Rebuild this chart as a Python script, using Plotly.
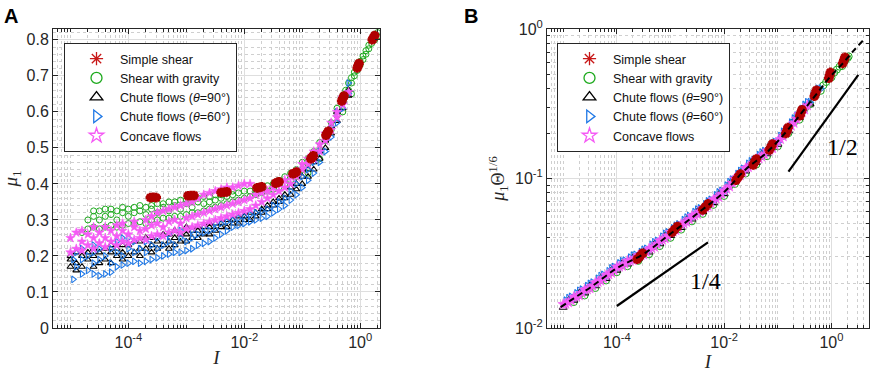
import math
import plotly.graph_objects as go

# ---------------- Panel A data (mu_1 vs I) ----------------
shear_I = [2.40e-4, 2.69e-4, 3.02e-4, 1.07e-3, 1.20e-3, 1.35e-3, 3.98e-3, 4.47e-3, 5.01e-3,
           1.66e-2, 1.82e-2, 2.00e-2, 3.47e-2, 3.72e-2, 3.98e-2, 6.92e-2, 7.41e-2, 7.94e-2,
           0.141, 0.148, 0.155, 0.257, 0.269, 0.282, 0.479, 0.501, 0.525, 0.891, 0.923, 0.955,
           1.62, 1.70, 1.78]
shear_mu = [0.362, 0.363, 0.362, 0.367, 0.368, 0.368, 0.376, 0.377, 0.378,
            0.389, 0.390, 0.392, 0.402, 0.404, 0.406, 0.428, 0.430, 0.433,
            0.470, 0.474, 0.478, 0.535, 0.540, 0.546, 0.630, 0.637, 0.644, 0.722, 0.728, 0.734,
            0.800, 0.806, 0.812]

gravity_I = [1.58e-5, 2.0e-5, 2.51e-5, 3.16e-5, 3.98e-5, 5.01e-5, 6.31e-5, 7.94e-5,
             1.0e-4, 1.26e-4, 1.58e-4, 2.0e-4, 2.51e-4, 3.16e-4, 3.98e-4, 5.01e-4, 6.31e-4, 7.94e-4,
             1.0e-3, 1.26e-3, 1.58e-3, 2.0e-3, 2.51e-3, 3.16e-3, 3.98e-3, 5.01e-3, 6.31e-3, 7.94e-3,
             1.0e-2, 1.26e-2, 1.58e-2, 2.0e-2, 2.51e-2, 3.16e-2, 3.98e-2, 5.01e-2, 6.31e-2, 7.94e-2,
             0.1, 0.126, 0.158, 0.2, 0.251, 0.316, 0.398, 0.501, 0.562, 0.631, 0.708, 0.794, 0.891,
             1.0, 1.12, 1.26, 1.41, 1.58, 1.78, 2.0]
gravity_mu = [[0.265], [0.275, 0.30], [0.28, 0.31, 0.325], [0.275, 0.30, 0.325], [0.28, 0.31, 0.33],
              [0.285, 0.315, 0.33], [0.28, 0.30, 0.325], [0.285, 0.32, 0.335],
              [0.29, 0.31, 0.33], [0.29, 0.32, 0.335], [0.295, 0.325, 0.34], [0.29, 0.315, 0.335],
              [0.30, 0.33, 0.34], [0.30, 0.32, 0.345], [0.305, 0.335, 0.345], [0.305, 0.325, 0.35],
              [0.31, 0.34, 0.35], [0.31, 0.33, 0.355],
              [0.315, 0.345, 0.355], [0.32, 0.335, 0.36], [0.32, 0.35, 0.36], [0.325, 0.345, 0.365],
              [0.33, 0.35, 0.365], [0.335, 0.355, 0.37], [0.34, 0.36, 0.37], [0.345, 0.365, 0.375],
              [0.35, 0.37, 0.38], [0.355, 0.375],
              [0.36, 0.38], [0.365, 0.38], [0.37, 0.385], [0.375, 0.39], [0.38, 0.395], [0.385, 0.40],
              [0.39, 0.41], [0.40, 0.42], [0.41, 0.43], [0.42, 0.44],
              [0.44, 0.46], [0.455, 0.47, 0.43], [0.47, 0.49], [0.495, 0.515, 0.47], [0.52, 0.54],
              [0.55, 0.57], [0.59, 0.61], [0.63, 0.645, 0.60], [0.65, 0.66], [0.66, 0.68],
              [0.68, 0.695, 0.65], [0.70, 0.71], [0.715, 0.725],
              [0.73, 0.74], [0.745, 0.755], [0.76, 0.77], [0.775, 0.785], [0.79, 0.80], [0.80, 0.815],
              [0.81, 0.82]]

chute90_I = [1.0e-5, 1.26e-5, 1.58e-5, 2.0e-5, 2.51e-5, 3.16e-5, 3.98e-5, 5.01e-5, 6.31e-5, 7.94e-5,
             1.0e-4, 1.26e-4, 1.58e-4, 2.0e-4, 2.51e-4, 3.16e-4, 3.98e-4, 5.01e-4, 6.31e-4, 7.94e-4,
             1.0e-3, 1.26e-3, 1.58e-3, 2.0e-3, 2.51e-3, 3.16e-3, 3.98e-3, 5.01e-3, 6.31e-3, 7.94e-3,
             1.0e-2, 1.26e-2, 1.58e-2, 2.0e-2, 2.51e-2, 3.16e-2, 3.98e-2, 5.01e-2, 6.31e-2, 7.94e-2,
             0.1, 0.126, 0.158, 0.2, 0.251, 0.316, 0.398, 0.501, 0.631]
chute90_mu = [[0.17, 0.19, 0.20], [0.16, 0.18, 0.21], [0.17, 0.20], [0.19, 0.21], [0.17, 0.20, 0.22],
              [0.18, 0.21], [0.19, 0.22], [0.18, 0.21, 0.23], [0.20, 0.22], [0.19, 0.21, 0.23],
              [0.20, 0.23], [0.21, 0.24], [0.20, 0.22, 0.24], [0.22, 0.25], [0.21, 0.23, 0.25],
              [0.22, 0.24], [0.23, 0.26], [0.22, 0.24, 0.26], [0.23, 0.25, 0.27], [0.24, 0.26],
              [0.24, 0.26, 0.28], [0.25, 0.27], [0.25, 0.27, 0.28], [0.26, 0.28], [0.26, 0.28, 0.29],
              [0.27, 0.29], [0.28, 0.29], [0.28, 0.30], [0.29, 0.30], [0.29, 0.31],
              [0.30, 0.31], [0.30, 0.32], [0.31, 0.32], [0.32, 0.33], [0.33, 0.34],
              [0.34, 0.35], [0.35, 0.36], [0.36, 0.37], [0.37, 0.39], [0.385, 0.40],
              [0.40, 0.42], [0.42, 0.44], [0.44, 0.46], [0.47, 0.49], [0.50, 0.52],
              [0.54, 0.56], [0.575, 0.60], [0.61, 0.63], [0.645, 0.66]]

chute60_I = [1.12e-5, 1.26e-5, 1.58e-5, 2.0e-5, 2.51e-5, 3.16e-5, 3.98e-5, 5.01e-5, 6.31e-5, 7.94e-5,
             1.0e-4, 1.26e-4, 1.58e-4, 2.0e-4, 2.51e-4, 3.16e-4, 3.98e-4, 5.01e-4, 6.31e-4, 7.94e-4,
             1.0e-3, 1.26e-3, 1.58e-3, 2.0e-3, 2.51e-3, 3.16e-3, 3.98e-3, 5.01e-3, 6.31e-3, 7.94e-3,
             1.0e-2, 1.26e-2, 1.58e-2, 2.0e-2, 2.51e-2, 3.16e-2, 3.98e-2, 5.01e-2, 6.31e-2, 7.94e-2,
             0.1, 0.126, 0.158, 0.2, 0.251, 0.316, 0.398, 0.501, 0.631]
chute60_mu = [[0.135, 0.19], [0.17, 0.21], [0.15, 0.19, 0.22], [0.16, 0.20], [0.15, 0.18, 0.21, 0.23],
              [0.145, 0.19, 0.22], [0.15, 0.20], [0.155, 0.18, 0.22], [0.17, 0.21, 0.24], [0.175, 0.20, 0.25],
              [0.18, 0.22, 0.25], [0.185, 0.21, 0.24], [0.18, 0.22], [0.185, 0.21, 0.24], [0.19, 0.23],
              [0.195, 0.22, 0.25], [0.20, 0.23], [0.205, 0.24, 0.26], [0.21, 0.23], [0.21, 0.25, 0.27],
              [0.215, 0.24], [0.22, 0.25, 0.27], [0.23, 0.26], [0.235, 0.265, 0.28], [0.24, 0.27],
              [0.25, 0.275, 0.29], [0.26, 0.29], [0.27, 0.295], [0.28, 0.30], [0.285, 0.305],
              [0.29, 0.31], [0.295, 0.315], [0.30, 0.32], [0.305, 0.325], [0.31, 0.33],
              [0.32, 0.34], [0.33, 0.35], [0.34, 0.36], [0.355, 0.38], [0.37, 0.40],
              [0.39, 0.42], [0.41, 0.44], [0.43, 0.46], [0.46, 0.49], [0.49, 0.53],
              [0.53, 0.56], [0.57, 0.60], [0.61, 0.64], [0.65, 0.68]]

concave_I = [1.0e-5, 1.26e-5, 1.58e-5, 2.0e-5, 2.51e-5, 3.16e-5, 3.98e-5, 5.01e-5, 6.31e-5, 7.94e-5,
             1.0e-4, 1.26e-4, 1.58e-4, 2.0e-4, 2.51e-4, 3.16e-4, 3.98e-4, 5.01e-4, 6.31e-4, 7.94e-4,
             1.0e-3, 1.26e-3, 1.58e-3, 2.0e-3, 2.51e-3, 3.16e-3, 3.98e-3, 5.01e-3, 6.31e-3, 7.94e-3,
             1.0e-2, 1.26e-2, 1.58e-2, 2.0e-2, 2.51e-2, 3.16e-2, 3.98e-2, 5.01e-2, 6.31e-2, 7.94e-2,
             0.1, 0.126, 0.158, 0.2, 0.251, 0.316, 0.398, 0.501, 0.631]
concave_mu = [[0.21, 0.25], [0.22, 0.265], [0.215, 0.24, 0.27], [0.23, 0.26], [0.22, 0.25, 0.28],
              [0.235, 0.265], [0.225, 0.25, 0.28], [0.24, 0.27], [0.23, 0.255, 0.285], [0.24, 0.27, 0.29],
              [0.235, 0.26], [0.245, 0.28, 0.295], [0.25, 0.27], [0.245, 0.275, 0.30], [0.255, 0.285, 0.31],
              [0.26, 0.29, 0.32], [0.255, 0.28, 0.325], [0.265, 0.295, 0.33], [0.27, 0.30, 0.335],
              [0.265, 0.29, 0.34],
              [0.275, 0.305, 0.345], [0.28, 0.31, 0.35], [0.285, 0.315, 0.36], [0.29, 0.32, 0.37],
              [0.295, 0.325, 0.375], [0.30, 0.33, 0.38], [0.305, 0.335, 0.385], [0.31, 0.34, 0.39],
              [0.315, 0.345, 0.39], [0.32, 0.35, 0.395],
              [0.325, 0.355, 0.40], [0.33, 0.36, 0.40], [0.34, 0.37], [0.35, 0.375], [0.36, 0.38],
              [0.37, 0.39], [0.38, 0.40], [0.39, 0.41], [0.40, 0.42], [0.42, 0.435],
              [0.44, 0.455], [0.455, 0.47], [0.47, 0.49], [0.49, 0.51], [0.52, 0.54],
              [0.55, 0.57], [0.585, 0.60], [0.62, 0.64], [0.655]]

# ---------------- Panel B data (mu_1 Theta^(1/6) vs I) ----------------
shear_yB = [0.0288, 0.0302, 0.0316, 0.0436, 0.0457, 0.0478, 0.0617, 0.0646, 0.0676,
            0.0974, 0.102, 0.107, 0.123, 0.129, 0.135, 0.155, 0.162, 0.170,
            0.200, 0.209, 0.219, 0.263, 0.275, 0.288, 0.355, 0.372, 0.389, 0.468, 0.490, 0.513,
            0.589, 0.617, 0.646]

gravity_IB = [1.58e-5, 2.0e-5, 2.51e-5, 3.16e-5, 3.98e-5, 5.01e-5, 6.31e-5, 7.94e-5,
              1.0e-4, 1.26e-4, 1.58e-4, 2.0e-4, 2.51e-4, 3.16e-4, 3.98e-4, 5.01e-4, 6.31e-4, 7.94e-4,
              1.0e-3, 1.26e-3, 1.58e-3, 2.0e-3, 2.51e-3, 3.16e-3, 3.98e-3, 5.01e-3, 6.31e-3, 7.94e-3,
              1.0e-2, 1.26e-2, 1.58e-2, 2.0e-2, 2.51e-2, 3.16e-2, 3.98e-2, 5.01e-2, 6.31e-2, 7.94e-2,
              0.1, 0.126, 0.158, 0.2, 0.251, 0.316, 0.398, 0.501, 0.631, 0.794,
              1.0, 1.26, 1.58, 2.0, 0.708, 0.891, 1.12, 1.41, 1.78, 2.09]
gravity_yB = [0.0149, 0.0167, 0.0165, 0.0186, 0.0185, 0.0209, 0.0208, 0.0236,
              0.0236, 0.0263, 0.0259, 0.0287, 0.0281, 0.0313, 0.0311, 0.0353, 0.0353, 0.0401,
              0.0401, 0.0455, 0.0455, 0.0516, 0.0517, 0.0583, 0.0580, 0.0661, 0.0666, 0.0759,
              0.0764, 0.0891, 0.0918, 0.106, 0.108, 0.123, 0.124, 0.141, 0.141, 0.161,
              0.164, 0.193, 0.201, 0.237, 0.247, 0.292, 0.314, 0.359, 0.386, 0.442,
              0.475, 0.535, 0.565, 0.640, 0.420, 0.465, 0.510, 0.560, 0.610, 0.655]

chute90_IB = chute90_I[:48]
chute90_yB = [0.0137, 0.0153, 0.0153, 0.0172, 0.0171, 0.0192, 0.0191, 0.0215, 0.0214, 0.0243,
              0.0243, 0.0271, 0.0267, 0.0296, 0.0290, 0.0322, 0.0321, 0.0364, 0.0365, 0.0413,
              0.0414, 0.0469, 0.0469, 0.0531, 0.0534, 0.0600, 0.0598, 0.0681, 0.0687, 0.0782,
              0.0789, 0.0918, 0.0948, 0.109, 0.112, 0.127, 0.128, 0.145, 0.146, 0.166,
              0.169, 0.199, 0.208, 0.244, 0.255, 0.301, 0.314, 0.370]

half_I = [1.12e-5, 1.41e-5, 1.78e-5, 2.24e-5, 2.82e-5, 3.55e-5, 4.47e-5, 5.62e-5, 7.08e-5, 8.91e-5,
          1.12e-4, 1.41e-4, 1.78e-4, 2.24e-4, 2.82e-4, 3.55e-4, 4.47e-4, 5.62e-4, 7.08e-4, 8.91e-4,
          1.12e-3, 1.41e-3, 1.78e-3, 2.24e-3, 2.82e-3, 3.55e-3, 4.47e-3, 5.62e-3, 7.08e-3, 8.91e-3,
          1.12e-2, 1.41e-2, 1.78e-2, 2.24e-2, 2.82e-2, 3.55e-2, 4.47e-2, 5.62e-2, 7.08e-2, 8.91e-2,
          0.112, 0.141, 0.178, 0.224, 0.282, 0.355, 0.447, 0.562]

chute60_IB = [1.26e-5, 1.58e-5, 2.0e-5, 2.51e-5, 3.16e-5, 3.98e-5, 5.01e-5, 6.31e-5, 7.94e-5,
              1.0e-4, 1.26e-4, 1.58e-4, 2.0e-4, 2.51e-4, 3.16e-4, 3.98e-4, 5.01e-4, 6.31e-4, 7.94e-4,
              1.0e-3, 1.26e-3, 1.58e-3, 2.0e-3, 2.51e-3, 3.16e-3, 3.98e-3, 5.01e-3, 6.31e-3, 7.94e-3,
              1.0e-2, 1.26e-2, 1.58e-2, 2.0e-2, 2.51e-2, 3.16e-2, 3.98e-2, 5.01e-2, 6.31e-2, 7.94e-2,
              0.1, 0.126, 0.158, 0.2, 0.251, 0.316, 0.398, 0.501, 0.631] + half_I
chute60_yB = [0.0158, 0.0158, 0.0177, 0.0176, 0.0197, 0.0197, 0.0222, 0.0221, 0.0250,
              0.0251, 0.0279, 0.0275, 0.0304, 0.0299, 0.0332, 0.0331, 0.0374, 0.0376, 0.0425,
              0.0427, 0.0482, 0.0484, 0.0547, 0.0550, 0.0618, 0.0617, 0.0701, 0.0708, 0.0805,
              0.0813, 0.0944, 0.0977, 0.112, 0.115, 0.130, 0.132, 0.149, 0.150, 0.171,
              0.174, 0.205, 0.214, 0.251, 0.263, 0.310, 0.324, 0.381, 0.398,
              0.0152, 0.0161, 0.0170, 0.0180, 0.0190, 0.0201, 0.0213, 0.0226, 0.0239, 0.0255,
              0.0270, 0.0282, 0.0295, 0.0308, 0.0321, 0.0338, 0.0359, 0.0382, 0.0407, 0.0435,
              0.0463, 0.0492, 0.0525, 0.0560, 0.0594, 0.0630, 0.0671, 0.0718, 0.0770, 0.0825,
              0.0894, 0.0980, 0.107, 0.116, 0.125, 0.133, 0.143, 0.152, 0.163, 0.175,
              0.192, 0.213, 0.236, 0.263, 0.291, 0.323, 0.358, 0.397]

concave_IB = chute90_I[:46] + half_I[:46]
concave_yB = [0.0144, 0.0148, 0.0161, 0.0165, 0.0180, 0.0184, 0.0201, 0.0207, 0.0225, 0.0234,
              0.0256, 0.0260, 0.0281, 0.0284, 0.0305, 0.0310, 0.0338, 0.0349, 0.0384, 0.0397,
              0.0436, 0.0450, 0.0494, 0.0511, 0.0561, 0.0577, 0.0629, 0.0654, 0.0722, 0.0751,
              0.0829, 0.0882, 0.0997, 0.105, 0.117, 0.122, 0.135, 0.140, 0.153, 0.159,
              0.177, 0.191, 0.218, 0.235, 0.268, 0.289,
              0.0145, 0.0153, 0.0162, 0.0171, 0.0181, 0.0191, 0.0203, 0.0215, 0.0228, 0.0243,
              0.0257, 0.0269, 0.0281, 0.0293, 0.0306, 0.0322, 0.0342, 0.0364, 0.0388, 0.0414,
              0.0441, 0.0469, 0.0500, 0.0533, 0.0566, 0.0600, 0.0639, 0.0684, 0.0733, 0.0786,
              0.0851, 0.0933, 0.102, 0.110, 0.119, 0.127, 0.136, 0.145, 0.155, 0.167,
              0.183, 0.203, 0.225, 0.250, 0.277, 0.308]

fit_I = [9.0e-6, 1.58e-5, 3.16e-5, 1.0e-4, 3.16e-4, 1.0e-3, 3.16e-3, 1.0e-2, 2.51e-2,
         6.31e-2, 0.158, 0.398, 1.0, 1.58, 2.51, 3.9]
fit_y = [0.0138, 0.0158, 0.0186, 0.0251, 0.0313, 0.0427, 0.0583, 0.0813, 0.115,
         0.150, 0.214, 0.324, 0.490, 0.582, 0.708, 0.84]

slope14_I = [1.0e-4, 5.0e-3]
slope14_y = [0.01403, 0.0374]
slope12_I = [0.158, 3.16]
slope12_y = [0.111, 0.493]

x_ticks = [1e-4, 1e-2, 1e0]
x_ticktext = ["10<sup>-4</sup>", "10<sup>-2</sup>", "10<sup>0</sup>"]
yB_ticks = [1e-2, 1e-1, 1e0]
yB_ticktext = ["10<sup>-2</sup>", "10<sup>-1</sup>", "10<sup>0</sup>"]

names = ["Simple shear", "Shear with gravity", "Chute flows (<i>θ</i>=90°)",
         "Chute flows (<i>θ</i>=60°)", "Concave flows"]

# ---------------- styles ----------------
RED = "#B00000"
RED_LEG = "#C81818"
GREEN = "#1EAA1E"
BLACK = "#000000"
BLUE = "#1F78E6"
PINK = "#F55AF5"
AX = "#262626"
FONT = "Liberation Sans, Arial, sans-serif"
SERIF = "Liberation Serif, Times New Roman, serif"


def flat(xs, groups):
    ox, oy = [], []
    for x, g in zip(xs, groups):
        for v in g:
            ox.append(x)
            oy.append(v)
    return ox, oy


fig = go.Figure()

leg_styles = [
    dict(symbol="asterisk-open", color=RED_LEG),
    dict(symbol="circle-open", color=GREEN),
    dict(symbol="triangle-up-open", color=BLACK),
    dict(symbol="triangle-right-open", color=BLUE),
    dict(symbol="star-open", color=PINK),
]


def data_trace(x, y, symbol, color, size, lw, xa, ya):
    return go.Scatter(x=x, y=y, mode="markers", xaxis=xa, yaxis=ya, showlegend=False,
                      marker=dict(symbol=symbol, size=size, color=color,
                                  line=dict(color=color, width=lw)),
                      hoverinfo="skip")

# ---- Panel A scatter ----
gx, gy = flat(gravity_I, gravity_mu)
bx, by = flat(chute90_I, chute90_mu)
ux, uy = flat(chute60_I, chute60_mu)
px_, py_ = flat(concave_I, concave_mu)

fig.add_trace(data_trace(gx, gy, "circle-open", GREEN, 6, 1, "x", "y"))
fig.add_trace(data_trace(bx, by, "triangle-up-open", BLACK, 6, 1.1, "x", "y"))
fig.add_trace(data_trace(ux, uy, "triangle-right-open", BLUE, 6, 1.1, "x", "y"))
fig.add_trace(data_trace(px_, py_, "star", PINK, 7, 0.6, "x", "y"))
fig.add_trace(data_trace(shear_I, shear_mu, "asterisk-open", RED, 8, 3, "x", "y"))

# ---- Panel B scatter ----
fig.add_trace(data_trace(gravity_IB, gravity_yB, "circle-open", GREEN, 7, 1, "x2", "y2"))
fig.add_trace(data_trace(chute90_IB, chute90_yB, "triangle-up-open", BLACK, 7, 1.1, "x2", "y2"))
fig.add_trace(data_trace(chute60_IB, chute60_yB, "triangle-right-open", BLUE, 7, 1.1, "x2", "y2"))
fig.add_trace(data_trace(concave_IB, concave_yB, "star", PINK, 8, 0.6, "x2", "y2"))
fig.add_trace(data_trace(shear_I, shear_yB, "asterisk-open", RED, 8, 3, "x2", "y2"))

fig.add_trace(go.Scatter(x=fit_I, y=fit_y, mode="lines", xaxis="x2", yaxis="y2", showlegend=False,
                         line=dict(color="black", width=2, dash="6px,4px", shape="spline"), hoverinfo="skip"))
fig.add_trace(go.Scatter(x=slope14_I, y=slope14_y, mode="lines", xaxis="x2", yaxis="y2", showlegend=False,
                         line=dict(color="black", width=2.2), hoverinfo="skip"))
fig.add_trace(go.Scatter(x=slope12_I, y=slope12_y, mode="lines", xaxis="x2", yaxis="y2", showlegend=False,
                         line=dict(color="black", width=2.2), hoverinfo="skip"))

# ---- legend entries ----
for leg, xa, ya in (("legend", "x", "y"), ("legend2", "x2", "y2")):
    for nm, st in zip(names, leg_styles):
        fig.add_trace(go.Scatter(x=[None], y=[None], mode="markers", name=nm, legend=leg,
                                 xaxis=xa, yaxis=ya,
                                 marker=dict(symbol=st["symbol"], size=11, color=st["color"],
                                             line=dict(color=st["color"], width=1.3))))

minor_x = []
for k in range(-6, 1):
    for m in range(2, 10):
        minor_x.append(m * 10.0 ** k)
minor_x += [1e-5, 1e-3, 1e-1, 10.0]
minor_yB = [m * 10.0 ** k for k in (-2, -1) for m in range(2, 10)]

common_axis = dict(showline=True, linecolor=AX, linewidth=1, mirror="ticks", ticks="inside",
                   tickcolor=AX, ticklen=5, tickwidth=1, showgrid=True, gridcolor="#dedede",
                   gridwidth=1, zeroline=False, automargin=False,
                   tickfont=dict(family=FONT, size=16, color=AX))

minor_log = dict(ticks="inside", ticklen=3, tickcolor=AX, showgrid=True,
                 gridcolor="#cfcfcf", griddash="dot", gridwidth=1)

ydom = [47 / 375, 346 / 375]
legend_common = dict(xanchor="left", yanchor="top", bgcolor="white", bordercolor=AX,
                     borderwidth=1, itemwidth=37, indentation=8,
                     font=dict(family=FONT, size=12.5, color="#111111"), tracegroupgap=0)

fig.update_layout(
    width=872, height=375, margin=dict(l=0, r=0, t=0, b=0),
    plot_bgcolor="white", paper_bgcolor="white",
    font=dict(family=FONT, size=13, color=AX),
    xaxis=dict(domain=[53 / 872, 380 / 872], anchor="y", type="log",
               range=[math.log10(5e-6), math.log10(2.2)],
               tickmode="array", tickvals=x_ticks, ticktext=x_ticktext,
               minor=dict(tickvals=minor_x, **minor_log),
               title=dict(text="<i>I</i>", font=dict(family=SERIF, size=19, color=AX), standoff=0),
               **common_axis),
    yaxis=dict(domain=ydom, anchor="x", range=[0, 0.83], tickmode="linear", tick0=0, dtick=0.1,
               minor=dict(dtick=0.02, tick0=0, ticks="", showgrid=True, gridcolor="#cfcfcf",
                          griddash="dot", gridwidth=1),
               title=dict(text="<i>μ</i><sub>1</sub>", font=dict(family=SERIF, size=19, color=AX),
                          standoff=5),
               **common_axis),
    xaxis2=dict(domain=[547 / 872, 869 / 872], anchor="y2", type="log",
                range=[math.log10(5e-6), math.log10(5)],
                tickmode="array", tickvals=x_ticks, ticktext=x_ticktext,
                minor=dict(tickvals=minor_x, **minor_log),
                title=dict(text="<i>I</i>", font=dict(family=SERIF, size=19, color=AX), standoff=0),
                **common_axis),
    yaxis2=dict(domain=ydom, anchor="x2", type="log", range=[-2, 0],
                tickmode="array", tickvals=yB_ticks, ticktext=yB_ticktext,
                minor=dict(tickvals=minor_yB, **minor_log),
                title=dict(text="<i>μ</i><sub>1</sub>Θ<sup>1/6</sup>",
                           font=dict(family=SERIF, size=18, color=AX), standoff=5),
                **common_axis),
    legend=dict(x=64 / 872, y=1 - 43 / 375, **legend_common),
    legend2=dict(x=557 / 872, y=1 - 43 / 375, **legend_common),
    annotations=[
        dict(text="<b>A</b>", x=2 / 872, y=1 - 3 / 375, xref="paper", yref="paper",
             xanchor="left", yanchor="top", showarrow=False, font=dict(family=FONT, size=20, color="black")),
        dict(text="<b>B</b>", x=462 / 872, y=1 - 3 / 375, xref="paper", yref="paper",
             xanchor="left", yanchor="top", showarrow=False, font=dict(family=FONT, size=20, color="black")),
        dict(text="1/4", x=-2.35, y=-1.687, xref="x2", yref="y2", showarrow=False,
             font=dict(family=SERIF, size=24, color="black")),
        dict(text="1/2", x=0.204, y=-0.787, xref="x2", yref="y2", showarrow=False,
             font=dict(family=SERIF, size=24, color="black")),
    ],
)

fig.write_html("out.html", config={"displayModeBar": False},
               post_script="document.body.style.margin='0';document.body.style.padding='0';")
